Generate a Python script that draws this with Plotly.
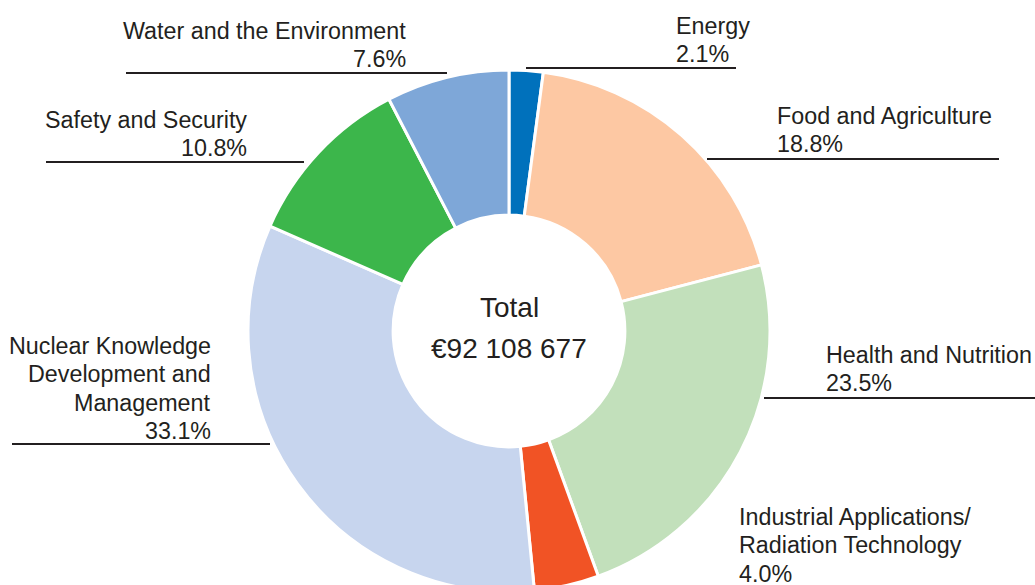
import plotly.graph_objects as go

labels = ["Energy", "Food and Agriculture", "Health and Nutrition",
          "Industrial Applications/<br>Radiation Technology",
          "Nuclear Knowledge<br>Development and<br>Management",
          "Safety and Security", "Water and the Environment"]
values = [2.1, 18.8, 23.5, 4.0, 33.1, 10.8, 7.6]
colors = ["#0071BC", "#FDC8A3", "#C2E0BB", "#F15325", "#C7D5EE", "#3CB64B", "#7EA7D8"]
total_label = "Total"
total_value = "€92 108 677"

# body margin is reset to 0 by the post script; figure taller than the window so the ring is cut at the bottom
OFF = 0
W, H = 1035, 600
TXT = "#231F20"
FONT = "Liberation Sans, Arial, Helvetica, sans-serif"
FS = 23.3
LINE_H = 28.3

# label layout (screen px): anchor x, align, first baseline y, underline y, underline x0, x1, draw
label_layout = [
    (675, "left", 34, 68, 526, 736, True),
    (776, "left", 124, 159, 707, 999, True),
    (825, "left", 363, 398, 764, 1045, True),
    (738, "left", 525, 0, 0, 0, False),
    (212, "right", 354, 444, 12, 270, True),
    (248, "right", 128, 162, 46, 304, True),
    (407, "right", 39, 73, 126, 447, True),
]

def px(x):
    return (x - OFF) / W

def py(y):
    return 1 - (y - OFF) / H

# pie geometry (screen px)
top, radius, cx = 70, 261, 509
fig = go.Figure(go.Pie(
    labels=labels, values=values, sort=False, direction="clockwise", rotation=0,
    hole=0.444, textinfo="none", hoverinfo="label+percent",
    marker=dict(colors=colors, line=dict(color="white", width=3)),
    domain=dict(x=[px(cx - radius), px(cx + radius)], y=[py(top + 2 * radius), py(top)]),
    showlegend=False,
))

annotations = []
shapes = []

def add_text(x, baseline, text, anchor, size):
    annotations.append(dict(
        x=px(x), y=py(baseline - 0.3465 * size), xref="paper", yref="paper",
        xanchor=anchor, yanchor="middle", showarrow=False, borderpad=0,
        text=text, font=dict(family=FONT, size=size, color=TXT),
    ))

for lab, val, (ax, align, b0, ly, x0, x1, draw) in zip(labels, values, label_layout):
    lines = lab.split("<br>") + [f"{val:.1f}%"]
    for i, line in enumerate(lines):
        add_text(ax, b0 + i * LINE_H, line, align, FS)
    if draw:
        shapes.append(dict(type="line", xref="paper", yref="paper",
                           x0=px(x0), x1=px(min(x1, W)), y0=py(ly), y1=py(ly),
                           line=dict(color=TXT, width=2)))

add_text(cx, 317, total_label, "center", 28)
add_text(cx, 358, total_value, "center", 28)

fig.update_layout(
    width=W, height=H, margin=dict(l=0, r=0, t=0, b=0),
    paper_bgcolor="white", plot_bgcolor="white",
    annotations=annotations, shapes=shapes,
)
fig.write_html(
    "out.html",
    config={"displayModeBar": False},
    post_script="document.body.style.margin='0';document.body.style.overflow='hidden';"
                "document.documentElement.style.overflow='hidden';",
)
